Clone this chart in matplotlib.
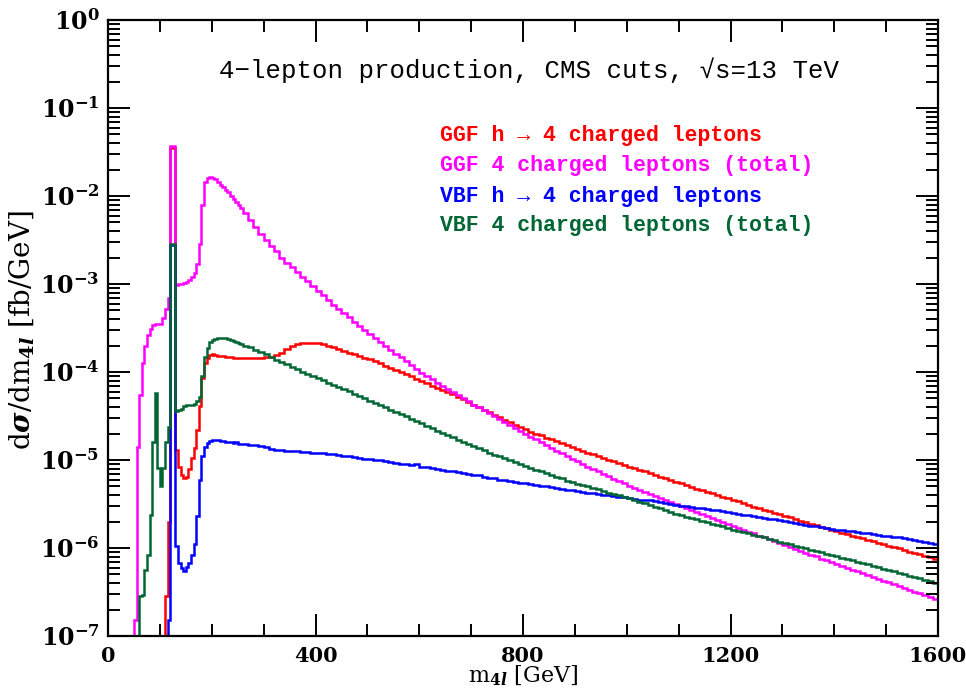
import numpy as np
import matplotlib
matplotlib.use("Agg")
import matplotlib.pyplot as plt
from matplotlib.ticker import LogLocator, MultipleLocator, FixedLocator, FuncFormatter, NullFormatter

# ---------------- data (log10 of dsigma/dm4l in fb/GeV) ----------------
# bins: 5 GeV wide from 0 to 260 GeV, 10 GeV wide from 260 to 1600 GeV
edges_low = list(range(0, 260, 5))
edges_high = list(range(260, 1601, 10))
EMPTY = -12.0

ggf_h_low = [EMPTY] * 22 + [
    -6.55, -5.71, -1.45, -1.45, -4.89, -5.08, -5.17, -5.21, -5.19, -5.10,
    -4.98, -4.86, -4.66, -4.39, -4.07, -3.90, -3.84, -3.81, -3.80, -3.81,
    -3.815, -3.82, -3.82, -3.83, -3.83, -3.835, -3.84, -3.84, -3.845, -3.845]
ggf_h_high = [
    -3.84, -3.845, -3.845, -3.84, -3.835, -3.825, -3.81, -3.78, -3.74, -3.705,
    -3.68, -3.67, -3.665, -3.665, -3.67, -3.685, -3.70, -3.72, -3.74, -3.76,
    -3.78, -3.80, -3.82, -3.84, -3.855, -3.875, -3.90, -3.93, -3.955, -3.98,
    -4.00, -4.025, -4.05, -4.075, -4.10, -4.13, -4.155, -4.18, -4.20, -4.23,
    -4.255, -4.285, -4.31, -4.34, -4.37, -4.40, -4.43, -4.46, -4.49, -4.515,
    -4.54, -4.57, -4.60, -4.625, -4.65, -4.68, -4.70, -4.72, -4.745, -4.765,
    -4.785, -4.81, -4.83, -4.85, -4.875, -4.895, -4.915, -4.935, -4.955, -4.975,
    -4.995, -5.015, -5.035, -5.055, -5.075, -5.095, -5.115, -5.13, -5.15, -5.17,
    -5.19, -5.21, -5.23, -5.25, -5.265, -5.285, -5.305, -5.325, -5.345, -5.36,
    -5.38, -5.40, -5.415, -5.435, -5.455, -5.47, -5.49, -5.51, -5.53, -5.545,
    -5.565, -5.58, -5.60, -5.615, -5.635, -5.65, -5.67, -5.69, -5.705, -5.725,
    -5.74, -5.76, -5.775, -5.79, -5.81, -5.825, -5.84, -5.86, -5.875, -5.89,
    -5.91, -5.925, -5.94, -5.96, -5.975, -5.99, -6.005, -6.02, -6.04, -6.055,
    -6.07, -6.09, -6.105, -6.12]

ggf_tot_low = [EMPTY] * 10 + [
    -6.82, -4.85, -4.26, -3.90, -3.70, -3.58, -3.51, -3.47, -3.46, -3.45,
    -3.45, -3.39, -3.28, -3.16, -1.43, -1.43, -3.01, -3.005, -3.00, -2.99,
    -2.98, -2.96, -2.92, -2.88, -2.77, -2.55, -2.10, -1.84, -1.80, -1.78,
    -1.79, -1.81, -1.84, -1.87, -1.90, -1.93, -1.96, -2.00, -2.03, -2.07,
    -2.10, -2.14]
ggf_tot_high = [
    -2.19, -2.27, -2.35, -2.43, -2.50, -2.57, -2.63, -2.70, -2.76, -2.81,
    -2.865, -2.915, -2.97, -3.02, -3.08, -3.13, -3.185, -3.235, -3.285, -3.335,
    -3.38, -3.43, -3.475, -3.52, -3.565, -3.61, -3.655, -3.70, -3.745, -3.79,
    -3.835, -3.88, -3.925, -3.965, -4.01, -4.045, -4.085, -4.12, -4.16, -4.195,
    -4.23, -4.265, -4.30, -4.335, -4.37, -4.40, -4.435, -4.47, -4.50, -4.535,
    -4.57, -4.60, -4.635, -4.665, -4.70, -4.735, -4.765, -4.80, -4.83, -4.86,
    -4.895, -4.925, -4.955, -4.985, -5.015, -5.045, -5.075, -5.10, -5.13, -5.16,
    -5.185, -5.215, -5.24, -5.265, -5.29, -5.315, -5.34, -5.36, -5.385, -5.41,
    -5.43, -5.455, -5.475, -5.50, -5.52, -5.545, -5.565, -5.59, -5.61, -5.635,
    -5.655, -5.68, -5.70, -5.725, -5.745, -5.77, -5.79, -5.815, -5.835, -5.86,
    -5.88, -5.90, -5.925, -5.945, -5.965, -5.99, -6.01, -6.03, -6.055, -6.075,
    -6.095, -6.12, -6.14, -6.16, -6.18, -6.20, -6.225, -6.245, -6.265, -6.285,
    -6.305, -6.325, -6.35, -6.37, -6.39, -6.41, -6.43, -6.45, -6.475, -6.495,
    -6.515, -6.535, -6.555, -6.58]

vbf_h_low = [EMPTY] * 23 + [
    -6.82, -2.56, -2.56, -5.98, -6.17, -6.23, -6.26, -6.22, -6.17, -6.08,
    -5.95, -5.64, -5.23, -4.96, -4.85, -4.81, -4.78, -4.77, -4.77, -4.775,
    -4.78, -4.78, -4.79, -4.80, -4.795, -4.81, -4.80, -4.815, -4.82]
vbf_h_high = [
    -4.82, -4.83, -4.83, -4.845, -4.855, -4.87, -4.885, -4.89, -4.895, -4.90,
    -4.90, -4.905, -4.91, -4.915, -4.92, -4.925, -4.93, -4.935, -4.94, -4.95,
    -4.96, -4.965, -4.975, -4.985, -4.99, -5.00, -5.005, -5.015, -5.02, -5.03,
    -5.04, -5.05, -5.055, -5.05, -5.08, -5.085, -5.09, -5.10, -5.11, -5.12,
    -5.13, -5.14, -5.145, -5.155, -5.165, -5.175, -5.19, -5.20, -5.21, -5.225,
    -5.23, -5.24, -5.25, -5.26, -5.265, -5.275, -5.285, -5.29, -5.30, -5.31,
    -5.32, -5.33, -5.34, -5.345, -5.355, -5.36, -5.37, -5.38, -5.385, -5.395,
    -5.40, -5.41, -5.42, -5.425, -5.435, -5.44, -5.45, -5.455, -5.46, -5.47,
    -5.48, -5.49, -5.50, -5.51, -5.52, -5.525, -5.535, -5.54, -5.55, -5.555,
    -5.565, -5.57, -5.58, -5.59, -5.60, -5.61, -5.62, -5.63, -5.64, -5.645,
    -5.655, -5.665, -5.675, -5.685, -5.695, -5.705, -5.715, -5.725, -5.735, -5.745,
    -5.755, -5.76, -5.77, -5.78, -5.79, -5.795, -5.805, -5.81, -5.82, -5.83,
    -5.835, -5.845, -5.85, -5.86, -5.865, -5.875, -5.88, -5.89, -5.90, -5.91,
    -5.92, -5.93, -5.94, -5.95]

vbf_tot_low = [EMPTY] * 12 + [
    -6.55, -6.53, -6.25, -6.08, -5.63, -4.79, -4.24, -5.09, -5.30, -5.09,
    -4.79, -4.62, -2.545, -2.545, -4.44, -4.43, -4.42, -4.39, -4.38, -4.38,
    -4.375, -4.36, -4.33, -4.28, -4.05, -3.83, -3.73, -3.66, -3.64, -3.62,
    -3.61, -3.61, -3.61, -3.615, -3.625, -3.635, -3.65, -3.66, -3.67, -3.685]
vbf_tot_high = [
    -3.70, -3.72, -3.745, -3.775, -3.80, -3.83, -3.86, -3.885, -3.91, -3.94,
    -3.97, -3.995, -4.02, -4.045, -4.07, -4.095, -4.12, -4.145, -4.17, -4.195,
    -4.22, -4.245, -4.27, -4.30, -4.325, -4.35, -4.375, -4.40, -4.43, -4.455,
    -4.48, -4.505, -4.53, -4.56, -4.585, -4.61, -4.64, -4.665, -4.69, -4.715,
    -4.74, -4.77, -4.795, -4.82, -4.845, -4.865, -4.89, -4.915, -4.94, -4.96,
    -4.98, -5.00, -5.025, -5.045, -5.065, -5.09, -5.11, -5.13, -5.15, -5.17,
    -5.19, -5.21, -5.235, -5.25, -5.27, -5.285, -5.30, -5.32, -5.335, -5.35,
    -5.37, -5.385, -5.40, -5.42, -5.435, -5.455, -5.475, -5.49, -5.51, -5.53,
    -5.55, -5.57, -5.59, -5.61, -5.625, -5.645, -5.66, -5.675, -5.69, -5.71,
    -5.725, -5.74, -5.755, -5.77, -5.79, -5.805, -5.82, -5.835, -5.85, -5.865,
    -5.88, -5.895, -5.91, -5.93, -5.945, -5.96, -5.975, -5.99, -6.005, -6.02,
    -6.035, -6.05, -6.065, -6.08, -6.095, -6.11, -6.125, -6.14, -6.155, -6.17,
    -6.185, -6.20, -6.22, -6.235, -6.25, -6.265, -6.28, -6.30, -6.315, -6.33,
    -6.345, -6.36, -6.38, -6.40]

labels = ["GGF h \u2192 4 charged leptons",
          "GGF 4 charged leptons (total)",
          "VBF h \u2192 4 charged leptons",
          "VBF 4 charged leptons (total)"]
colors = ["#ff0000", "#ff00ff", "#0000ff", "#006633"]
title = "4\u2212lepton production, CMS cuts, \u221as=13 TeV"
xticks_major = [0, 400, 800, 1200, 1600]

# ---------------- plotting ----------------
plt.rcParams['mathtext.fontset'] = 'custom'
plt.rcParams['mathtext.rm'] = 'DejaVu Serif:bold'
plt.rcParams['mathtext.bf'] = 'DejaVu Serif:bold'
plt.rcParams['mathtext.it'] = 'DejaVu Serif:italic:bold'
plt.rcParams['font.family'] = ['DejaVu Serif']
plt.rcParams['font.weight'] = 'bold'

fig = plt.figure(figsize=(9.66, 6.9), dpi=100)
ax = fig.add_axes([108 / 966, 54 / 690, 830 / 966, 616 / 690])

edges = np.array(edges_low + edges_high, dtype=float)
series = [ggf_h_low + ggf_h_high, ggf_tot_low + ggf_tot_high,
          vbf_h_low + vbf_h_high, vbf_tot_low + vbf_tot_high]
for vals, col in zip(series, colors):
    v = np.power(10.0, np.array(vals, dtype=float))
    ax.stairs(v, edges, baseline=None, color=col, lw=1.8)

ax.set_yscale('log')
ax.set_xlim(0, 1600)
ax.set_ylim(1e-7, 1.0)

ax.xaxis.set_major_locator(FixedLocator(xticks_major))
ax.xaxis.set_minor_locator(MultipleLocator(100))
ax.xaxis.set_minor_formatter(NullFormatter())
ax.yaxis.set_major_locator(LogLocator(base=10, numticks=20))
ax.yaxis.set_minor_locator(LogLocator(base=10, subs=np.arange(2, 10), numticks=20))
ax.yaxis.set_minor_formatter(NullFormatter())

def yfmt(v, pos):
    e = int(round(np.log10(v)))
    return r'$\mathbf{10^{%s}}$' % (str(e).replace('-', '\u2212'))
ax.yaxis.set_major_formatter(FuncFormatter(yfmt))

ax.tick_params(which='both', direction='in', top=True, right=True, width=1.4, colors='black')
ax.tick_params(which='major', length=15.5)
ax.tick_params(which='minor', length=8.5)
ax.tick_params(axis='x', which='major', labelsize=15, pad=7)
ax.tick_params(axis='y', which='major', labelsize=17, pad=6)
for s in ax.spines.values():
    s.set_linewidth(1.6)

ax.set_xlabel(r'm$_{4l}$ [GeV]', fontsize=16)
ax.xaxis.set_label_coords(523 / 966, 1 - 676 / 690, transform=fig.transFigure)
ax.xaxis.label.set_va('center')
ax.set_ylabel(r'd$\sigma$/dm$_{4l}$ [fb/GeV]', fontsize=20)
ax.yaxis.set_label_coords(22 / 966, 1 - 330 / 690, transform=fig.transFigure)
ax.yaxis.label.set_va('center')

ax.text(0.5 * (216 + 842) / 966, 1 - 70 / 690, title, transform=fig.transFigure,
        ha='center', va='center', fontsize=18.5, fontweight='normal',
        family=['Liberation Mono', 'DejaVu Sans Mono'])
for i, (lab, col) in enumerate(zip(labels, colors)):
    ax.text(440 / 966, 1 - (136 + 30 * i) / 690, lab, transform=fig.transFigure,
            ha='left', va='center', fontsize=15.5, fontweight='bold', color=col,
            family=['Liberation Mono', 'DejaVu Sans Mono'])

fig.savefig('out.png', dpi=100)
